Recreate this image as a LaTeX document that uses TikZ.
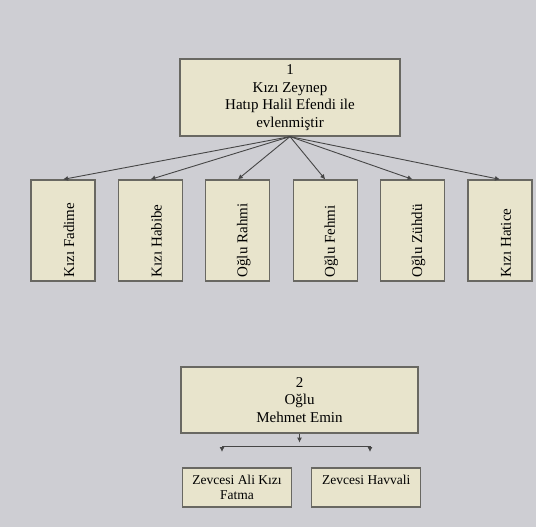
\documentclass[tikz,border=0pt]{standalone}
\usepackage{fontspec}
\setmainfont{Liberation Serif}
\usetikzlibrary{arrows.meta, positioning}
\definecolor{pagegray}{RGB}{206,206,211}
\definecolor{boxbeige}{RGB}{232,228,204}
\definecolor{edgegray}{RGB}{105,104,98}
\definecolor{linegray}{RGB}{70,70,70}

\begin{document}
\begin{tikzpicture}[
        x=1pt, y=-1pt,
        box/.style={rectangle, draw=edgegray, line width=1.2pt, fill=boxbeige, align=center, inner sep=2pt, font=\fontsize{15}{17.5}\selectfont},
        kid/.style={box, minimum width=64pt, minimum height=101pt},
        upright/.style={rotate=90, anchor=west, inner sep=0pt, font=\fontsize{15}{17}\selectfont},
        wife/.style={box, minimum width=109pt, minimum height=39pt, font=\fontsize{13.5}{15.5}\selectfont},
        link/.style={-{Latex[length=5pt, width=5pt]}, line width=0.9pt, linegray}
    ]
        \fill[pagegray] (0,0) rectangle (536,527);
        \useasboundingbox (0,0) rectangle (536,527);

        \node[box, minimum width=220pt, minimum height=77pt] (zeynep) at (290,97.5) {1\\Kızı Zeynep\\Hatıp Halil Efendi ile\\evlenmiştir};

        \node[kid] (fadime) at (63,230.5) {};
        \node[kid, right=22.2pt of fadime] (habibe) {};
        \node[kid, right=22.2pt of habibe] (rahmi) {};
        \node[kid, right=22.2pt of rahmi] (fehmi) {};
        \node[kid, right=22.2pt of fehmi] (zuhdu) {};
        \node[kid, right=22.2pt of zuhdu] (hatice) {};

        \node[upright] (fadimetxt) at ([xshift=6pt, yshift=4pt]fadime.south) {Kızı Fadime};
        \node[upright] (habibetxt) at ([xshift=6pt, yshift=4pt]habibe.south) {Kızı Habibe};
        \node[upright] (rahmitxt) at ([xshift=6pt, yshift=4pt]rahmi.south) {Oğlu Rahmi};
        \node[upright] (fehmitxt) at ([xshift=6pt, yshift=4pt]fehmi.south) {Oğlu Fehmi};
        \node[upright] (zuhdutxt) at ([xshift=6pt, yshift=4pt]zuhdu.south) {Oğlu Zühdü};
        \node[upright] (haticetxt) at ([xshift=6pt, yshift=4pt]hatice.south) {Kızı Hatice};

        \draw[link] (zeynep.south) -- (fadime.north);
        \draw[link] (zeynep.south) -- (habibe.north);
        \draw[link] (zeynep.south) -- (rahmi.north);
        \draw[link] (zeynep.south) -- (fehmi.north);
        \draw[link] (zeynep.south) -- (zuhdu.north);
        \draw[link] (zeynep.south) -- (hatice.north);

        \node[box, minimum width=237pt, minimum height=66pt] (emin) at (299.5,400) {2\\Oğlu\\Mehmet Emin};

        \node[wife] (fatma) at (237,487.5) {Zevcesi Ali Kızı\\Fatma};
        \node[wife, text depth=15pt, right=19pt of fatma] (havvali) {Zevcesi Havvali};

        \coordinate[below=13pt of emin] (fork);
        \coordinate (leftdrop) at (222,452);
        \coordinate (rightdrop) at (370,452);

        \draw[link, shorten >=4pt] (emin.south) -- (fork);
        \draw[link] (fork) -| (leftdrop);
        \draw[link] (fork) -| (rightdrop);
    \end{tikzpicture}
\end{document}
